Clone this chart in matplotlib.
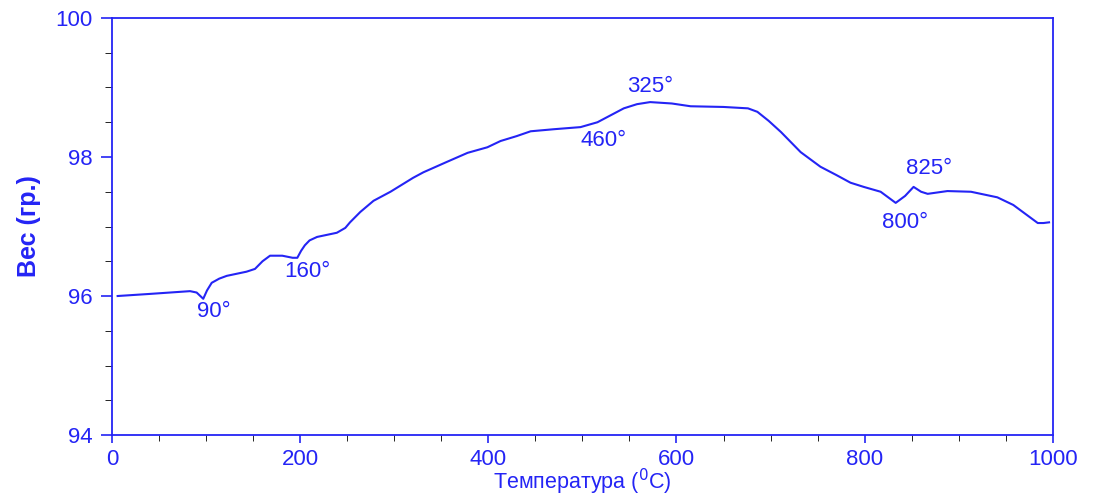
import matplotlib
matplotlib.use('Agg')
import matplotlib.pyplot as plt
from matplotlib.ticker import MultipleLocator

plt.rcParams['font.family'] = ['Liberation Sans', 'DejaVu Sans']

# ---- данные ----
temp = [6, 40, 83, 90, 97, 101, 106, 114, 122, 143, 152, 160, 168, 181, 192, 197, 201,
        205, 210, 218, 239, 248, 253, 264, 278, 296, 320, 331, 356, 378, 399, 413, 430,
        445, 470, 498, 516, 530, 544, 558, 572, 595, 615, 650, 676, 686, 698, 711, 732,
        753, 770, 785, 799, 817, 833, 843, 852, 860, 867, 888, 913, 941, 958, 972, 984,
        990, 996]
weight = [96.00, 96.03, 96.07, 96.05, 95.96, 96.08, 96.19, 96.25, 96.29, 96.35, 96.39,
          96.50, 96.58, 96.58, 96.55, 96.55, 96.65, 96.73, 96.80, 96.85, 96.91, 96.98,
          97.06, 97.21, 97.37, 97.50, 97.70, 97.78, 97.93, 98.06, 98.14, 98.23, 98.30,
          98.37, 98.40, 98.43, 98.50, 98.60, 98.70, 98.76, 98.79, 98.77, 98.73, 98.72,
          98.70, 98.65, 98.52, 98.36, 98.07, 97.86, 97.74, 97.63, 97.57, 97.50, 97.34,
          97.44, 97.57, 97.50, 97.47, 97.51, 97.50, 97.42, 97.31, 97.17, 97.05, 97.05,
          97.06]

# подписи пиков: текст, x, y (в координатах данных)
peak_labels = ['90°', '160°', '460°', '325°', '800°', '825°']
peak_x = [108, 208, 523, 572, 843, 868]
peak_y = [95.78, 96.35, 98.24, 99.02, 97.06, 97.84]

blue = '#2424f5'

fig = plt.figure(figsize=(11, 4.97), dpi=100)
ax = fig.add_axes([0.1018, 0.1247, 0.8553, 0.8391])

ax.plot(temp, weight, color=blue, lw=1.5)

for txt, x, y in zip(peak_labels, peak_x, peak_y):
    ax.text(x, y, txt, color=blue, fontsize=16, ha='center', va='center')

ax.set_xlim(0, 1000)
ax.set_ylim(94, 100)
ax.xaxis.set_major_locator(MultipleLocator(200))
ax.xaxis.set_minor_locator(MultipleLocator(50))
ax.yaxis.set_major_locator(MultipleLocator(2))
ax.yaxis.set_minor_locator(MultipleLocator(0.5))

for s in ax.spines.values():
    s.set_color(blue)
    s.set_linewidth(1.3)

ax.tick_params(axis='both', colors=blue, labelsize=16, width=1.2)
ax.tick_params(axis='x', which='major', length=6, pad=4)
ax.tick_params(axis='x', which='minor', length=4)
ax.tick_params(axis='y', which='major', length=8, pad=6)
ax.tick_params(axis='y', which='minor', length=5)

ax.set_xlabel('Температура ($^{0}$C)', color=blue, fontsize=15.5, labelpad=-2)
ax.set_ylabel('Вес (гр.)', color=blue, fontsize=18, fontweight='bold', labelpad=10)

fig.savefig('out.png', dpi=100)
